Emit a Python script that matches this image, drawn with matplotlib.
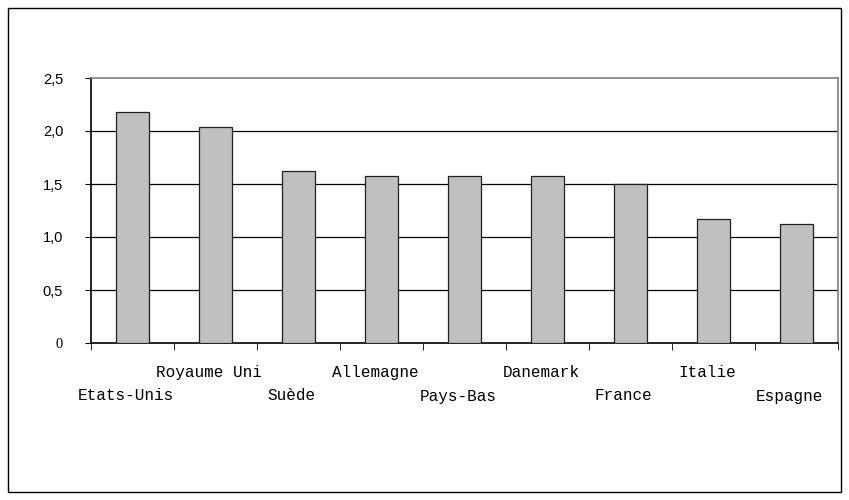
import matplotlib.pyplot as plt
import numpy as np
from matplotlib.patches import Rectangle
from matplotlib.ticker import FixedLocator

pays = ["Etats-Unis", "Royaume Uni", "Suède", "Allemagne", "Pays-Bas",
        "Danemark", "France", "Italie", "Espagne"]
valeurs = [2.18, 2.04, 1.62, 1.58, 1.58, 1.58, 1.50, 1.17, 1.12]
yticks = [0, 0.5, 1.0, 1.5, 2.0, 2.5]
ylabels = ["0", "0,5", "1,0", "1,5", "2,0", "2,5"]

fig = plt.figure(figsize=(8.49, 5), dpi=100)
fig.patches.append(Rectangle((8 / 849, 8 / 500), 833 / 849, 484 / 500,
                             transform=fig.transFigure, fill=False,
                             edgecolor="black", linewidth=1.0))

ax = fig.add_axes([91 / 849, 1 - 343 / 500, 747 / 849, 265 / 500])
x = np.arange(len(pays))
ax.bar(x, valeurs, width=0.4, color="#c0c0c0", edgecolor="#202020",
       linewidth=0.9, zorder=3)

ax.set_xlim(-0.5, len(pays) - 0.5)
ax.set_ylim(0, 2.5)
for y in yticks[1:-1]:
    ax.axhline(y, color="black", linewidth=0.9, zorder=1)

ax.spines["left"].set_color("black")
ax.spines["bottom"].set_color("black")
ax.spines["top"].set_color("#808080")
ax.spines["right"].set_color("#808080")
for s in ax.spines.values():
    s.set_linewidth(1.2)

ax.set_yticks(yticks)
ax.set_yticklabels(ylabels, fontsize=10.5, family="Liberation Sans")
ax.get_yticklabels()[0].set_family("Liberation Serif")
ax.tick_params(axis="y", length=4, direction="out", pad=16)

ax.set_xticks([])
ax.xaxis.set_minor_locator(FixedLocator(np.arange(-0.5, len(pays), 1.0)))
ax.tick_params(axis="x", which="minor", length=5, direction="out")

for i, p in enumerate(pays):
    yy = -0.11 if i % 2 else -0.20
    ax.text(i - 0.08, yy, p, transform=ax.get_xaxis_transform(), ha="center",
            va="center", fontsize=11.5, family="Liberation Mono")

fig.savefig("out.png", dpi=100)
